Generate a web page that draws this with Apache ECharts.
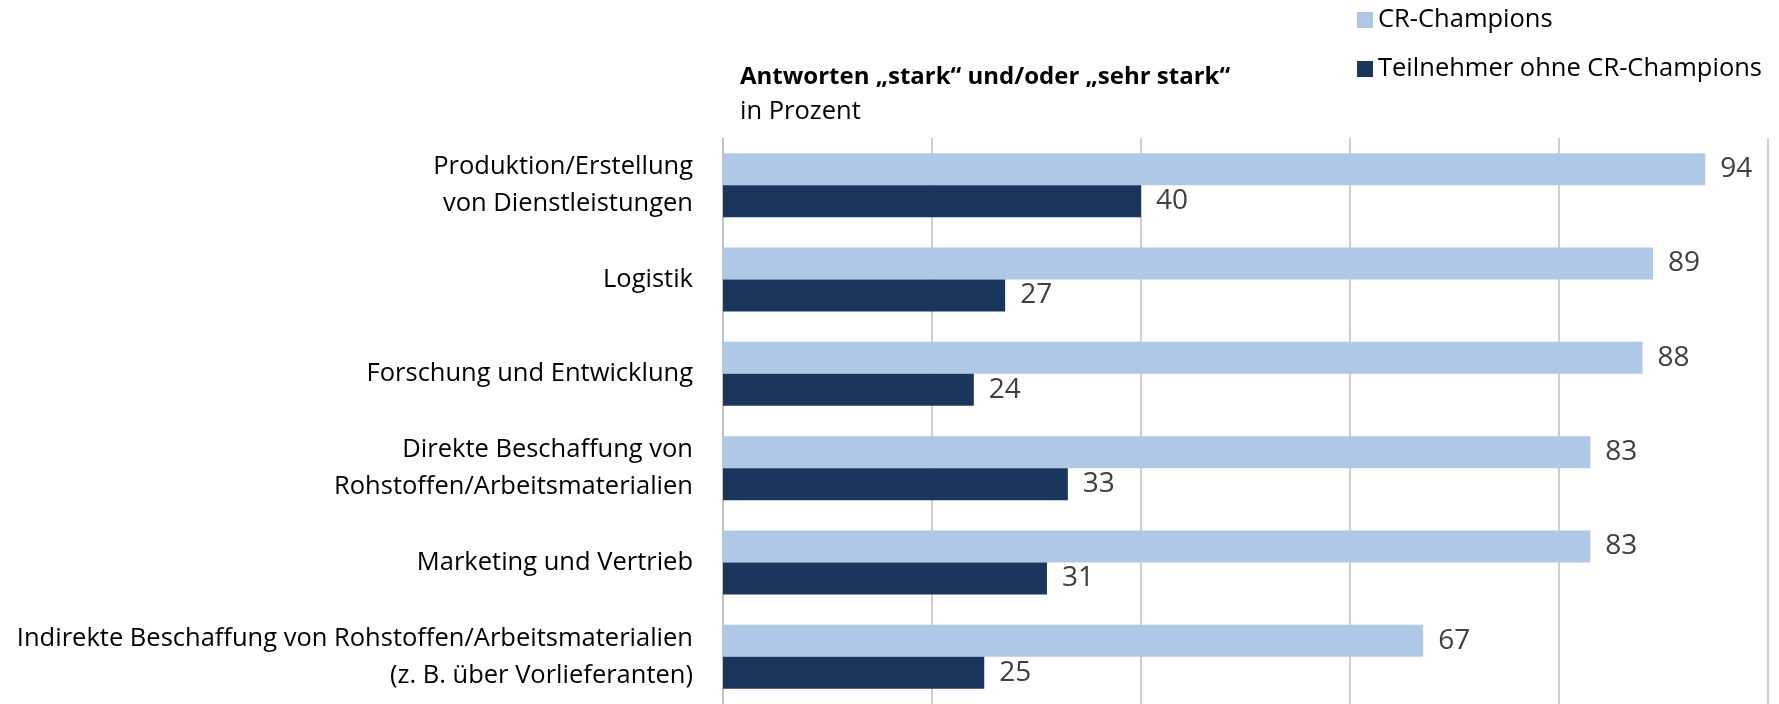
<!DOCTYPE html>
<html>
<head>
<meta charset="utf-8">
<script src="https://cdn.jsdelivr.net/npm/echarts@6/dist/echarts.min.js"></script>
<style>
  html, body { margin: 0; padding: 0; background: #fff; }
  #chart { width: 1779px; height: 704px; }
</style>
</head>
<body>
<div id="chart"></div>
<script>
const categories = [
  'Produktion/Erstellung\nvon Dienstleistungen',
  'Logistik',
  'Forschung und Entwicklung',
  'Direkte Beschaffung von\nRohstoffen/Arbeitsmaterialien',
  'Marketing und Vertrieb',
  'Indirekte Beschaffung von Rohstoffen/Arbeitsmaterialien\n(z. B. über Vorlieferanten)'
]
const champions = [94, 89, 88, 83, 83, 67]
const others = [40, 27, 24, 33, 31, 25]

const font = '"Open Sans", sans-serif'

const myChart = echarts.init(document.getElementById('chart'))
myChart.setOption({
  animation: false,
  textStyle: {fontFamily: font},
  title: {
    text: 'Antworten „stark“ und/oder „sehr stark“',
    subtext: 'in Prozent',
    left: 735,
    top: 60,
    itemGap: 10,
    textStyle: {fontSize: 24, fontWeight: 'bold', color: '#000', fontFamily: font},
    subtextStyle: {fontSize: 25.5, color: '#000', fontFamily: font}
  },
  legend: {
    orient: 'vertical',
    left: 1352,
    top: 2,
    itemWidth: 16,
    itemHeight: 16,
    itemGap: 23,
    icon: 'rect',
    textStyle: {fontSize: 25.5, color: '#000', fontFamily: font}
  },
  grid: {left: 723, right: 11, top: 138, bottom: -4, containLabel: false},
  xAxis: {
    type: 'value',
    min: 0,
    max: 100,
    interval: 20,
    axisLabel: {show: false},
    axisLine: {show: false},
    axisTick: {show: false},
    splitLine: {lineStyle: {color: '#bfbfbf', width: 1.5}}
  },
  yAxis: {
    type: 'category',
    inverse: true,
    data: categories,
    axisTick: {show: false},
    axisLine: {lineStyle: {color: '#bfbfbf', width: 1.5}},
    axisLabel: {
      fontSize: 25.5,
      color: '#000',
      lineHeight: 37,
      margin: 30,
      align: 'right',
      fontFamily: font
    }
  },
  series: [
    {
      name: 'CR-Champions',
      type: 'bar',
      data: champions,
      barWidth: 32,
      barGap: '0%',
      itemStyle: {color: '#afc8e6'},
      label: {show: true, position: 'right', distance: 15, fontSize: 28, color: '#404040'}
    },
    {
      name: 'Teilnehmer ohne CR-Champions',
      type: 'bar',
      data: others,
      barWidth: 32,
      barGap: '0%',
      itemStyle: {color: '#1b365d'},
      label: {show: true, position: 'right', distance: 15, fontSize: 28, color: '#404040'}
    }
  ]
})
</script>
</body>
</html>
